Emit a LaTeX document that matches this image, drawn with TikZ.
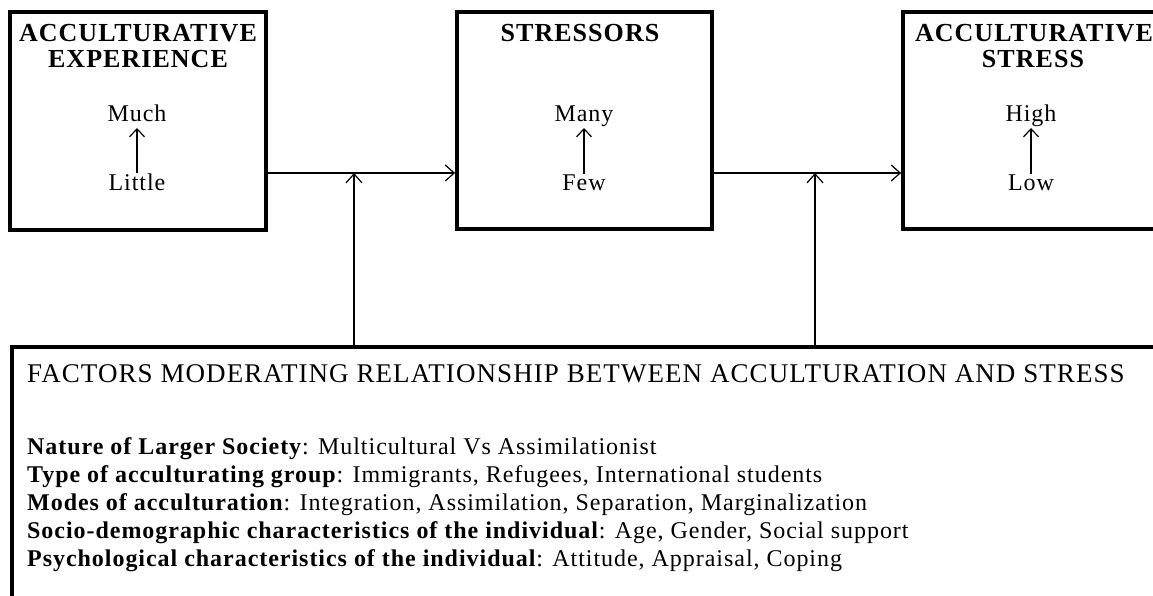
\documentclass[tikz,border=0pt]{standalone}
\usepackage{fontspec}
\setmainfont{Liberation Serif}[LetterSpace=4]
\usetikzlibrary{arrows.meta}
\begin{document}
\begin{tikzpicture}[x=1pt,y=-1pt,
  box/.style={draw, line width=3.8pt, inner sep=0pt},
  conn/.style={line width=1.2pt, -{Straight Barb[length=9pt,width=16pt,line width=1.2pt]}},
  small/.style={line width=1.2pt, -{Straight Barb[length=8pt,width=15pt,line width=1.2pt]}},
  ttl/.style={font=\fontsize{26}{30}\selectfont\bfseries, anchor=base, inner sep=0pt},
  lbl/.style={font=\fontsize{24}{28}\selectfont, anchor=base, inner sep=0pt},
  body/.style={font=\fontsize{24}{28}\selectfont, anchor=base west, inner sep=0pt},
  head/.style={font=\fontsize{27}{30}\selectfont, anchor=base west, inner sep=0pt}]
\useasboundingbox (0,0) rectangle (1153,596);
\clip (0,0) rectangle (1153,596);
% boxes
\node[box, minimum width=256pt, minimum height=218pt] (exp) at (138,121) {};
\node[box, minimum width=255pt, minimum height=217pt] (str) at (584.5,120.5) {};
\node[box, minimum width=297pt, minimum height=217pt] (sts) at (1051.5,120.5) {};
\node[box, minimum width=1188pt, minimum height=303pt] (fac) at (606,498.5) {};
% box titles
\node[ttl] (t1a) at (138,42) {ACCULTURATIVE};
\node[ttl] (t1b) at (138,68) {EXPERIENCE};
\node[ttl] (t2) at (580,42) {STRESSORS};
\node[ttl] (t3a) at (1034,42) {ACCULTURATIVE};
\node[ttl] (t3b) at (1033,68) {STRESS};
% scales
\node[lbl] (much) at (137,122) {Much};
\node[lbl] (little) at (137,190) {Little};
\node[lbl] (many) at (584,122) {Many};
\node[lbl] (few) at (584,190) {Few};
\node[lbl] (high) at (1031,122) {High};
\node[lbl] (low) at (1031,190) {Low};
\draw[small] (little.north) -- ([yshift=-6pt]much.base);
\draw[small] (few.north) -- ([yshift=-6pt]many.base);
\draw[small] (low.north) -- ([yshift=-6pt]high.base);
% connectors
\coordinate (ay) at (0,173);
\draw[conn] (exp.east |- ay) -- (str.west |- ay);
\draw[conn] (str.east |- ay) -- (sts.west |- ay);
\coordinate (m1) at (354,173);
\coordinate (m2) at (815,173);
\draw[conn] (m1 |- fac.north) -- (m1);
\draw[conn] (m2 |- fac.north) -- (m2);
% factors text
\node[head] (fh) at (27,382) {FACTORS MODERATING RELATIONSHIP BETWEEN ACCULTURATION AND STRESS};
\node[body] (f1) at (27,454) {\textbf{Nature of Larger Society}: Multicultural Vs Assimilationist};
\node[body] (f2) at (27,482) {\textbf{Type of acculturating group}: Immigrants, Refugees, International students};
\node[body] (f3) at (27,510) {\textbf{Modes of acculturation}: Integration, Assimilation, Separation, Marginalization};
\node[body] (f4) at (27,538) {\textbf{Socio-demographic characteristics of the individual}: Age, Gender, Social support};
\node[body] (f5) at (27,566) {\textbf{Psychological characteristics of the individual}: Attitude, Appraisal, Coping};
\end{tikzpicture}
\end{document}
